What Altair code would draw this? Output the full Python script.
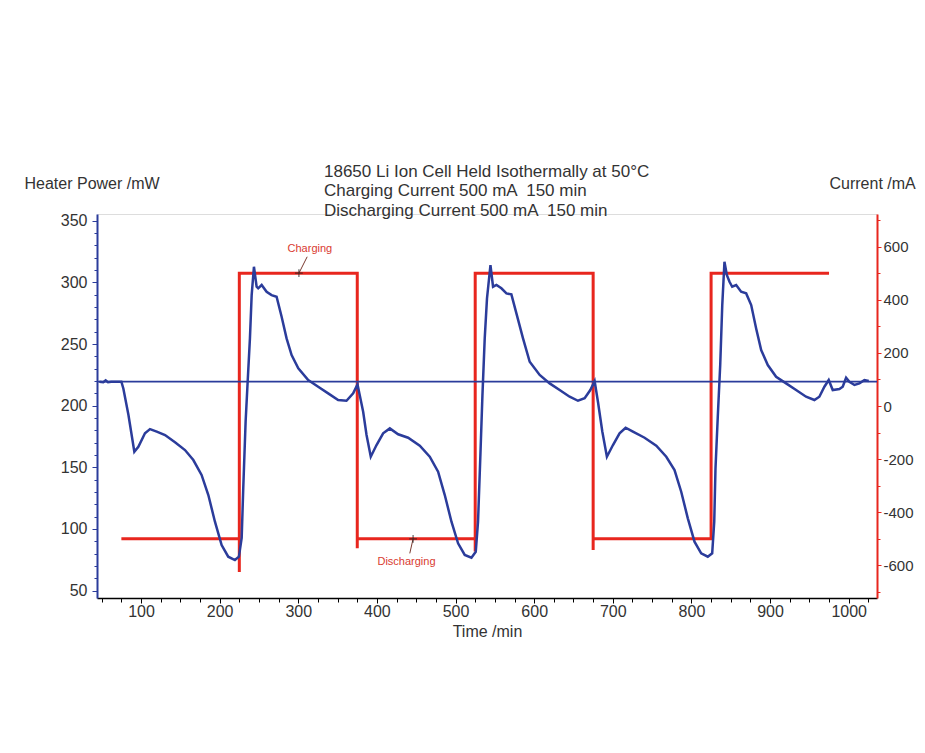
import altair as alt
import pandas as pd

# ---------------- data ----------------
time_power = [47, 52, 55, 58, 62, 75, 77.5, 84, 91.5, 96.6, 105, 111.4, 120, 130.5, 143.2, 155.9,
              166.5, 177, 185.6, 194, 202.5, 210.9, 219.4, 224.5, 228, 230, 233, 235.6, 238.5,
              240.7, 243.6, 247, 249, 253.4, 259.7, 266, 272.4, 278.8, 285.1, 291.5, 300, 312.6,
              325.3, 338, 350.7, 361.3, 369.8, 375.3, 382.5, 386.8, 392.2, 399.5, 407.9, 416.4,
              427, 439.7, 454.5, 467.2, 477.8, 486.3, 494.8, 503.2, 511.7, 520.2, 525.7, 528.6,
              531.6, 534.2, 537.1, 540, 544.4, 547.7, 552, 558.3, 564.7, 571, 577.4, 585.8, 594.3,
              607, 619.7, 632.4, 645.1, 655.7, 664.2, 671.4, 676.9, 681.1, 686.7, 692.5, 700.2,
              708.6, 716.3, 725.6, 740.4, 755.3, 768, 778.5, 787, 795.4, 803.9, 812.4, 820.8,
              826.4, 829, 830.6, 833.6, 836.6, 839.2, 842, 845, 848.4, 851.8, 856.9, 863.2, 869.6,
              876, 882.3, 888.7, 897.1, 907.7, 920.4, 933.1, 945.8, 956.4, 962.7, 969.1, 974.6,
              979.7, 988.2, 992.4, 996.7, 1000.9, 1007.3, 1013.6, 1020, 1025.5]
power_mw = [219.5, 219, 220.5, 219, 219.5, 219.5, 214, 192.4, 162.7, 166.7, 177.6, 181, 178.9,
            176.2, 170.3, 164, 155.9, 143.8, 127.5, 105.9, 87, 77.5, 74.8, 77.5, 92.7, 133, 187,
            219.4, 254.6, 289.7, 312.7, 296.5, 295.2, 297.9, 292.4, 289.7, 288.4, 272.1, 254.6,
            241.1, 230.3, 220.8, 215.4, 210, 204.6, 204, 210, 217.3, 195.1, 176.2, 158.6, 168.1,
            177.6, 181.6, 176.8, 174, 167.5, 158.6, 146.4, 127.5, 105.9, 88.4, 78.9, 76.7, 81.5,
            105.9, 160, 208.6, 254.6, 287, 314, 296.5, 297.9, 295.2, 291.1, 290.3, 274.9, 254.6,
            235.6, 224.9, 218.1, 212.7, 207.3, 204, 206, 212.7, 220, 203.2, 178.9, 158.6, 168.1,
            177.6, 182.1, 178.9, 174, 167.5, 158.6, 147.8, 130.2, 108.6, 89.7, 80.3, 77.5, 80.3,
            105.9, 149.2, 192.4, 233, 281.6, 316.8, 306, 300.5, 296.5, 297.9, 292.4, 291.1,
            281.6, 262.7, 245.1, 233, 223.5, 218.1, 212.7, 207.3, 204.6, 207.3, 215.4, 220.8,
            212.7, 213.5, 215.4, 222.7, 219.4, 216.8, 218.1, 220.8, 220]
baseline_mw = [219.5]

time_current = [75, 225, 225, 225, 375, 375, 375, 525, 525, 525, 675, 675, 675, 825, 825, 975]
current_ma = [-500, -500, -625, 500, 500, -536, -500, -500, -548, 500, 500, -542, -500, -500,
              500, 500]

label_text = ["Charging", "Discharging"]
label_time = [314.7, 437.6]
label_current = [591, -586]

leader_id = [0, 0, 1, 1]
leader_time = [311.3, 300.8, 441.8, 446]
leader_current = [562, 500, -555, -500]

marker_time = [300.8, 446]
marker_current = [500, -500]

title_lines = ["18650 Li Ion Cell Held Isothermally at 50\u00b0C",
               "Charging Current 500 mA \u00a0150 min",
               "Discharging Current 500 mA \u00a0150 min"]

# ---------------- styling ----------------
FONT = "Liberation Sans"
BLUE = "#2b3c9b"
RED = "#e8261e"
TXT = "#333333"

power_df = pd.DataFrame({"t": time_power, "p": power_mw, "k": range(len(time_power))})
base_df = pd.DataFrame({"p": baseline_mw})
cur_df = pd.DataFrame({"t": time_current, "i": current_ma, "k": range(len(time_current))})
lab_df = pd.DataFrame({"t": label_time, "i": label_current, "txt": label_text})
lead_df = pd.DataFrame({"t": leader_time, "i": leader_current, "g": leader_id})
mark_df = pd.DataFrame({"t": marker_time, "i": marker_current})

x_enc = alt.X(
    "t:Q",
    scale=alt.Scale(domain=[44, 1036], nice=False, zero=False),
    axis=alt.Axis(
        title="Time /min", values=list(range(50, 1036, 25)),
        labelExpr="datum.value % 100 === 0 ? '' + datum.value : ''",
        tickSize={"condition": {"test": "datum.value % 100 === 0", "value": 5}, "value": 4},
        domainColor="#000000", tickColor="#000000", labelColor=TXT, titleColor=TXT,
        labelFont=FONT, titleFont=FONT, labelFontSize=16, titleFontSize=16,
        titleFontWeight="normal", labelPadding=0, titlePadding=4, grid=False,
        domainWidth=1.5, labelFlush=False, labelOverlap=False,
    ),
)

y_left = alt.Y(
    "p:Q",
    scale=alt.Scale(domain=[44, 355.5], nice=False, zero=False),
    axis=alt.Axis(
        orient="left", title="Heater Power /mW", values=list(range(50, 351, 10)),
        labelExpr="datum.value % 50 === 0 ? '' + datum.value : ''",
        tickSize={"condition": {"test": "datum.value % 50 === 0", "value": 5}, "value": 3},
        domainColor=BLUE, tickColor=BLUE, domainWidth=2, labelColor=TXT, titleColor=TXT,
        labelFont=FONT, titleFont=FONT, labelFontSize=16, titleFontSize=16,
        titleFontWeight="normal", titleAngle=0, titleAlign="left", titleBaseline="middle",
        titleX=-73, titleY=-31, labelPadding=5, grid=False, labelFlush=False,
        labelOverlap=False,
    ),
)

y_right = alt.Y(
    "i:Q",
    scale=alt.Scale(domain=[-723, 723], nice=False, zero=False),
    axis=alt.Axis(
        orient="right", title="Current /mA", values=list(range(-700, 701, 100)),
        labelExpr="datum.value % 200 === 0 ? '' + datum.value : ''",
        tickSize={"condition": {"test": "datum.value % 200 === 0", "value": 4}, "value": 3},
        domainColor=RED, tickColor=RED, domainWidth=2, labelColor=TXT, titleColor=TXT,
        labelFont=FONT, titleFont=FONT, labelFontSize=15, titleFontSize=16,
        titleFontWeight="normal", titleAngle=0, titleAlign="left", titleBaseline="middle",
        titleX=-48, titleY=-31, labelPadding=2, grid=False, labelFlush=False,
        labelOverlap=False,
    ),
)

red_line = alt.Chart(cur_df).mark_line(color=RED, strokeWidth=3, strokeJoin="miter").encode(
    x=x_enc, y=y_right, order="k:Q")
leaders = alt.Chart(lead_df).mark_line(color="#7a3a30", strokeWidth=1).encode(
    x=x_enc, y=y_right, detail="g:N")
markers = alt.Chart(mark_df).mark_point(
    shape="M-1,0L1,0M0,-1L0,1", size=60, color="#222222", strokeWidth=1.2, filled=False
).encode(x=x_enc, y=y_right)
labels = alt.Chart(lab_df).mark_text(
    color="#d93a30", font=FONT, fontSize=11, align="center", baseline="middle"
).encode(x=x_enc, y=y_right, text="txt:N")

red_group = alt.layer(red_line, leaders, markers, labels)

base_rule = alt.Chart(base_df).mark_rule(color=BLUE, strokeWidth=1.8).encode(y=y_left)
blue_curve = alt.Chart(power_df).mark_line(color=BLUE, strokeWidth=2.5).encode(
    x=x_enc, y=y_left, order="k:Q")

blue_group = alt.layer(base_rule, blue_curve)

chart = alt.layer(red_group, blue_group).resolve_scale(y="independent").properties(
    width=780,
    height=384,
    autosize=alt.AutoSizeParams(type="none"),
    padding={"left": 89, "top": 206, "right": 40, "bottom": 100},
    title=alt.TitleParams(
        text=title_lines, anchor="start", align="left", frame="group", dx=227, font=FONT,
        fontSize=17, fontWeight="normal", color=TXT, lineHeight=19.5, offset=-44.5,
    ),
).configure_view(stroke=None).configure(background="white")

chart.save("out.html", embed_options={"renderer": "svg", "actions": False})
